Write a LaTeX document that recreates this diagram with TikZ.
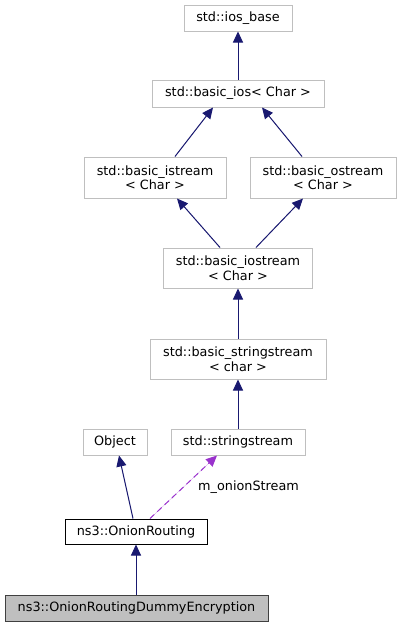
\documentclass[tikz,border=0pt]{standalone}
\usepackage{fontspec}
\setmainfont{DejaVu Sans}
\usetikzlibrary{arrows.meta}
\definecolor{navy}{HTML}{191970}
\definecolor{orchid}{HTML}{9A32CD}
\definecolor{extgray}{HTML}{BFBFBF}
\definecolor{curfill}{HTML}{BFBFBF}
\definecolor{curline}{HTML}{404040}
\begin{document}
\begin{tikzpicture}[x=1pt,y=-1pt,
  every node/.style={font=\fontsize{12.8}{14.5}\selectfont, align=center, inner sep=0pt},
  ext/.style={draw=extgray, line width=1pt, fill=white, rectangle},
  own/.style={draw=black, line width=1pt, fill=white, rectangle},
  cur/.style={draw=curline, line width=1pt, fill=curfill, rectangle},
  inh/.style={draw=navy, line width=1pt, -{Triangle[length=11pt,width=10pt]}, fill=navy},
  use/.style={draw=orchid, line width=1pt, dash pattern=on 6pt off 4pt, -{Triangle[length=11pt,width=10pt]}, fill=orchid}
]
\useasboundingbox (0,0) rectangle (401,627);
\node[ext, minimum width=108pt, minimum height=26pt] (ios) at (238,18) {std::ios\_base};
\node[ext, minimum width=172pt, minimum height=27pt] (bios) at (238,93.5) {std::basic\_ios< Char >};
\node[ext, minimum width=142pt, minimum height=41pt] (istr) at (155,177.5) {std::basic\_istream\\< Char >};
\node[ext, minimum width=146pt, minimum height=41pt] (ostr) at (323,177.5) {std::basic\_ostream\\< Char >};
\node[ext, minimum width=149pt, minimum height=40pt] (iostr) at (238,268) {std::basic\_iostream\\< Char >};
\node[ext, minimum width=176pt, minimum height=40pt] (bss) at (238,359) {std::basic\_stringstream\\< char >};
\node[ext, minimum width=64pt, minimum height=26pt] (obj) at (115,442) {Object};
\node[ext, minimum width=134pt, minimum height=26pt] (sstr) at (238,442) {std::stringstream};
\node[own, minimum width=142pt, minimum height=25pt] (onion) at (136,531.5) {ns3::OnionRouting};
\node[cur, minimum width=263pt, minimum height=26pt] (dummy) at (136.5,608) {ns3::OnionRoutingDummyEncryption};
\node[anchor=west] (lbl) at (198,487) {m\_onionStream};

\draw[inh] (bios.north) -- (ios.south);
\draw[inh] ([xshift=20pt]istr.north) -- ([xshift=-25pt]bios.south);
\draw[inh] ([xshift=-21pt]ostr.north) -- ([xshift=24pt]bios.south);
\draw[inh] ([xshift=-18pt]iostr.north) -- ([xshift=22pt]istr.south);
\draw[inh] ([xshift=18pt]iostr.north) -- ([xshift=-20pt]ostr.south);
\draw[inh] (bss.north) -- (iostr.south);
\draw[inh] (sstr.north) -- (bss.south);
\draw[inh] ([xshift=-3pt]onion.north) -- ([xshift=4pt]obj.south);
\draw[use] ([xshift=14pt]onion.north) -- ([xshift=-21pt]sstr.south);
\draw[inh] ([xshift=-0.5pt]dummy.north) -- (onion.south);
\end{tikzpicture}
\end{document}
